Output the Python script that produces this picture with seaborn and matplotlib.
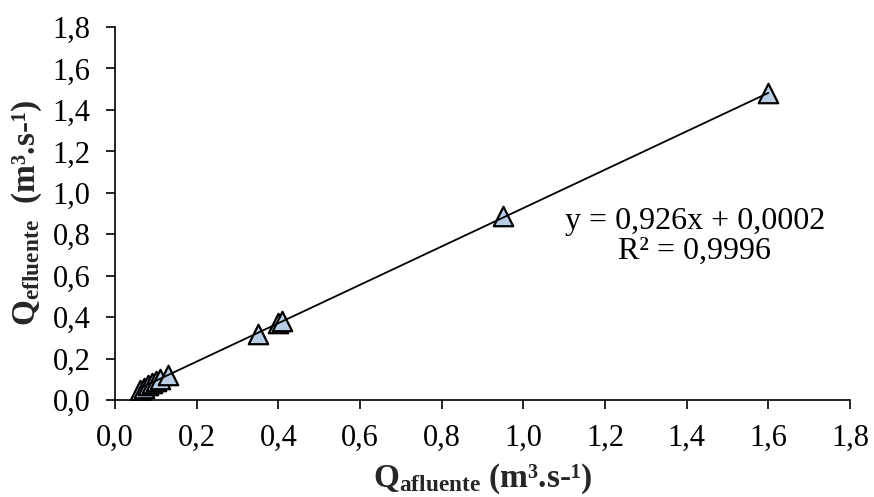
import matplotlib
matplotlib.use("Agg")
import matplotlib.pyplot as plt
import seaborn as sns
import numpy as np
import pandas as pd

# Measured discharges (m³/s)
q_afluente = [0.06, 0.07, 0.08, 0.09, 0.10, 0.11, 0.13, 0.35, 0.40, 0.41, 0.95, 1.60]
q_efluente = [0.05, 0.06, 0.07, 0.08, 0.09, 0.10, 0.12, 0.32, 0.37, 0.38, 0.89, 1.48]

# Linear trend reported for the series
slope = 0.926
intercept = 0.0002
r2 = 0.9996

tick_values = [0.0, 0.2, 0.4, 0.6, 0.8, 1.0, 1.2, 1.4, 1.6, 1.8]
tick_labels = ["0,0", "0,2", "0,4", "0,6", "0,8", "1,0", "1,2", "1,4", "1,6", "1,8"]

sns.set_theme(style="ticks")
plt.rcParams["font.family"] = ["Liberation Serif", "DejaVu Serif"]
plt.rcParams["mathtext.fontset"] = "custom"
plt.rcParams["mathtext.rm"] = "Liberation Serif"
plt.rcParams["mathtext.bf"] = "Liberation Serif:bold"
plt.rcParams["mathtext.it"] = "Liberation Serif:italic"

FS = 22       # tick labels
FS_LABEL = 24 # axis titles
FS_EQ = 23    # trend equation

df = pd.DataFrame({"x": q_afluente, "y": q_efluente})

fig = plt.figure(figsize=(8.74, 4.97), dpi=100)
left, right, bottom, top = 115 / 874, 850 / 874, 97 / 497, 470 / 497
ax = fig.add_axes([left, bottom, right - left, top - bottom])

sns.scatterplot(data=df, x="x", y="y", marker="^", s=14 ** 2,
                color="#b9cde5", edgecolor="black", linewidth=1.6, ax=ax,
                zorder=2)

xfit = np.array([min(q_afluente), max(q_afluente)])
ax.plot(xfit, slope * xfit + intercept, color="black", lw=1.3, zorder=3)

ax.set_xlim(0, 1.8)
ax.set_ylim(0, 1.8)
ax.set_xticks(tick_values)
ax.set_xticklabels(tick_labels)
ax.set_yticks(tick_values)
ax.set_yticklabels(tick_labels)
ax.tick_params(axis="both", direction="out", length=6.5, width=1.2,
               labelsize=FS, color="black", labelcolor="black", pad=11)
for side in ("top", "right"):
    ax.spines[side].set_visible(False)
for side in ("left", "bottom"):
    ax.spines[side].set_color("black")
    ax.spines[side].set_linewidth(1.2)

ax.set_xlabel(r"$\mathbf{Q}_{\mathbf{afluente}}$ (m³.s-¹)", fontsize=FS_LABEL,
              fontweight="bold", labelpad=6)
ax.set_ylabel(r"$\mathbf{Q}_{\mathbf{efluente}}$  (m³.s-¹)", fontsize=FS_LABEL,
              fontweight="bold", labelpad=6)

eq = ("y = " + f"{slope:.3f}".replace(".", ",") + "x + "
      + f"{intercept:.4f}".replace(".", ",")
      + "\nR² = " + f"{r2:.4f}".replace(".", ","))
ax.text(1.42, 0.79, eq, ha="center", va="center", fontsize=FS_EQ,
        linespacing=1.05, color="black")

fig.savefig("out.png", dpi=100)
